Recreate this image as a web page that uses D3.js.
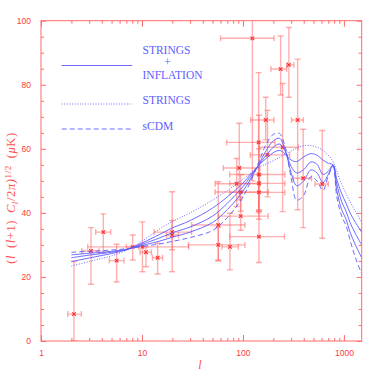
<!DOCTYPE html>
<html>
<head>
<meta charset="utf-8">
<script src="https://cdn.jsdelivr.net/npm/d3@7"></script>
<style>
body{margin:0;background:#fff;}
</style>
</head>
<body>
<div id="main"></div>
<script>
var curveL = [2, 3, 4, 5, 7, 10, 15, 20, 30, 50, 70, 100, 140, 170, 200, 230, 260, 300, 340, 400, 470, 540, 620, 700, 780, 850, 950, 1050, 1150, 1300, 1500];
//model curves (uK)
var sCDM     = [27.7, 28.0, 28.2, 28.4, 28.8, 29.5, 30.3, 31.1, 32.3, 34.5, 38.5, 45.0, 55.0, 61.5, 64.5, 64.8, 61.0, 51.0, 44.0, 45.5, 51.3, 50.0, 47.0, 51.5, 54.5, 45.0, 39.0, 36.0, 31.5, 26.0, 21.0];
var mixHigh  = [26.9, 27.4, 27.7, 28.0, 28.6, 29.8, 31.2, 32.4, 34.0, 37.0, 41.0, 46.8, 54.5, 59.5, 62.5, 63.3, 60.0, 52.5, 48.5, 50.0, 53.4, 52.5, 49.5, 52.0, 54.8, 47.0, 41.0, 38.0, 34.0, 30.0, 26.0];
var mixMid   = [26.0, 26.8, 27.3, 27.7, 28.5, 30.2, 32.2, 33.8, 35.6, 39.0, 43.0, 48.2, 54.5, 58.0, 60.5, 61.5, 59.5, 54.5, 52.5, 53.5, 55.9, 55.2, 52.0, 53.0, 55.0, 49.0, 43.5, 40.5, 37.0, 33.5, 30.0];
var mixLow   = [24.8, 25.9, 26.7, 27.3, 28.5, 30.6, 33.3, 35.3, 37.6, 41.5, 45.0, 49.3, 54.5, 57.0, 58.8, 59.5, 58.5, 56.5, 56.0, 57.5, 58.5, 58.0, 56.5, 55.5, 55.0, 50.5, 46.0, 43.0, 40.0, 37.0, 34.0];
var strings  = [23.4, 24.8, 25.8, 26.6, 28.3, 31.2, 35.0, 37.3, 40.0, 44.0, 47.0, 50.5, 54.0, 55.3, 56.3, 57.3, 58.2, 59.3, 60.2, 61.0, 61.0, 60.5, 59.5, 58.0, 56.0, 53.0, 49.0, 46.0, 43.5, 40.5, 37.0];

//measurements: centre, error bars and l band
var pointL    = [2.12, 3.13, 4.14, 5.61, 8.09, 10.1, 10.96, 14.3, 19.9, 19.9, 56.9, 57, 74.3, 94.9, 95, 86.6, 91.9, 143, 124, 236, 285, 247, 348, 395, 610, 144, 144, 144, 144, 175, 168];
var pointVal  = [8.4, 28.1, 34.0, 25.1, 29.4, 29.4, 27.7, 26.0, 34.0, 33.1, 36.2, 30.0, 29.4, 39.0, 46.5, 49.1, 54.0, 62.0, 94.5, 84.9, 86.2, 60.5, 69.0, 50.8, 49.0, 52.0, 49.2, 46.4, 32.6, 58.1, 69.0];
var pointLow  = [0, 17.7, 27.7, 18.4, 25.3, 21.6, 23.2, 20.9, 21.6, 28.5, 25.3, 25.0, 22.2, 34.6, 40.5, 42.0, 44.0, 40.0, 50.0, 76.8, 76.1, 40.4, 41.0, 35.4, 32.1, 41.0, 38.0, 40.5, 24.5, 45.0, 62.8];
var pointHigh = [24.8, 35.4, 39.7, 30.2, 33.1, 37.2, 29.4, 30.5, 46.6, 37.6, 49.7, 35.5, 39.9, 45.0, 52.0, 57.0, 68.0, 83.8, 108, 95.2, 97.9, 80.4, 88.0, 66.1, 65.7, 70.5, 60.0, 52.0, 40.5, 72.0, 76.1];
var pointLMin = [1.84, 2.53, 3.48, 4.75, 7.0, 2.9, 9.55, 12.7, 13.2, 17.5, 31.0, 28.8, 62, 57, 53, 53, 64, 69, 60, 189, 271, 145, 303, 315, 518, 74, 74, 74, 74, 118, 119];
var pointLMax = [2.51, 3.75, 4.90, 6.63, 9.3, 29, 12.4, 16.0, 31.0, 23, 104.7, 104.6, 90, 178, 178, 148, 147, 207, 203, 271, 320, 355, 395, 478, 700, 260, 260, 260, 258, 290, 203];

//tick values
var xMajor = [1, 10, 100, 1000];
var yMajor = [0, 20, 40, 60, 80, 100];

var width = 382, height = 382;
var plotLeft = 41, plotRight = 361.7, plotTop = 20.7, plotBottom = 341;
var frameColor = "#ff6a6a";
var labelColor = "#ff3b3b";
var barColor = "#ff6060";
var lineColor = "#5b5bff";

function render(){
  var svg = d3.select('#main').append('svg')
              .attr('width', width).attr('height', height)
              .style('background', '#fff');

  var xScale = d3.scaleLog().domain([1, 1500]).range([plotLeft, plotRight]);
  var yScale = d3.scaleLinear().domain([0, 100]).range([plotBottom, plotTop]);

  svg.append('defs').append('clipPath').attr('id', 'plot')
     .append('rect').attr('x', plotLeft).attr('y', plotTop)
     .attr('width', plotRight-plotLeft).attr('height', plotBottom-plotTop);

  //minor tick values
  var xMinor = [];
  [1, 10, 100, 1000].forEach(function(d){
    for(var k=2; k<10; k++){ if(d*k < 1500) xMinor.push(d*k); }
  });
  var yMinor = d3.range(5, 100, 5).filter(function(v){ return v % 20 !== 0; });

  //axes, ticks pointing inward on all four sides
  function styleAxis(g){
    g.select('.domain').remove();
    g.selectAll('line').attr('stroke', frameColor);
    g.selectAll('text').attr('fill', labelColor)
     .style('font-family', 'Liberation Sans, Arial, sans-serif').style('font-size', '8.5px');
  }
  svg.append('g').attr('transform', 'translate(0,' + plotBottom + ')')
     .call(d3.axisBottom(xScale).tickValues(xMajor).tickFormat(d3.format('d')).tickSizeInner(-6).tickSizeOuter(0).tickPadding(9))
     .call(styleAxis);
  svg.append('g').attr('transform', 'translate(0,' + plotBottom + ')')
     .call(d3.axisBottom(xScale).tickValues(xMinor).tickFormat('').tickSizeInner(-3).tickSizeOuter(0))
     .call(styleAxis);
  svg.append('g').attr('transform', 'translate(0,' + plotTop + ')')
     .call(d3.axisTop(xScale).tickValues(xMajor).tickFormat('').tickSizeInner(-6).tickSizeOuter(0))
     .call(styleAxis);
  svg.append('g').attr('transform', 'translate(0,' + plotTop + ')')
     .call(d3.axisTop(xScale).tickValues(xMinor).tickFormat('').tickSizeInner(-3).tickSizeOuter(0))
     .call(styleAxis);
  svg.append('g').attr('transform', 'translate(' + plotLeft + ',0)')
     .call(d3.axisLeft(yScale).tickValues(yMajor).tickSizeInner(-5).tickSizeOuter(0).tickPadding(10))
     .call(styleAxis);
  svg.append('g').attr('transform', 'translate(' + plotLeft + ',0)')
     .call(d3.axisLeft(yScale).tickValues(yMinor).tickFormat('').tickSizeInner(-3).tickSizeOuter(0))
     .call(styleAxis);
  svg.append('g').attr('transform', 'translate(' + plotRight + ',0)')
     .call(d3.axisRight(yScale).tickValues(yMajor).tickFormat('').tickSizeInner(-5).tickSizeOuter(0))
     .call(styleAxis);
  svg.append('g').attr('transform', 'translate(' + plotRight + ',0)')
     .call(d3.axisRight(yScale).tickValues(yMinor).tickFormat('').tickSizeInner(-3).tickSizeOuter(0))
     .call(styleAxis);

  //frame
  svg.append('rect').attr('x', plotLeft).attr('y', plotTop)
     .attr('width', plotRight-plotLeft).attr('height', plotBottom-plotTop)
     .attr('fill', 'none').attr('stroke', frameColor).attr('stroke-width', 1);

  //data points with error bars
  var pts = pointL.map(function(l, i){
    return {l: l, v: pointVal[i], lo: pointLow[i], hi: pointHigh[i], l0: pointLMin[i], l1: pointLMax[i]};
  });
  var bars = svg.append('g').attr('clip-path', 'url(#plot)')
                .attr('stroke', barColor).attr('stroke-opacity', 0.5).attr('stroke-width', 1.4);
  var cap = 3;
  pts.forEach(function(d){
    var x = xScale(d.l), y = yScale(d.v);
    var x0 = xScale(d.l0), x1 = xScale(d.l1), y0 = yScale(d.lo), y1 = yScale(d.hi);
    bars.append('line').attr('x1', x).attr('x2', x).attr('y1', y0).attr('y2', y1);
    bars.append('line').attr('x1', x-cap).attr('x2', x+cap).attr('y1', y0).attr('y2', y0);
    bars.append('line').attr('x1', x-cap).attr('x2', x+cap).attr('y1', y1).attr('y2', y1);
    bars.append('line').attr('x1', x0).attr('x2', x1).attr('y1', y).attr('y2', y);
    bars.append('line').attr('x1', x0).attr('x2', x0).attr('y1', y-cap).attr('y2', y+cap);
    bars.append('line').attr('x1', x1).attr('x2', x1).attr('y1', y-cap).attr('y2', y+cap);
  });
  svg.append('g').selectAll('path').data(pts).enter().append('path')
     .attr('d', function(d){
       var x = xScale(d.l), y = yScale(d.v), s = 1.8;
       return 'M' + (x-s) + ',' + (y-s) + 'L' + (x+s) + ',' + (y+s) + 'M' + (x-s) + ',' + (y+s) + 'L' + (x+s) + ',' + (y-s);
     })
     .attr('stroke', '#ff2a2a').attr('stroke-width', 1.1).attr('fill', 'none');

  //model curves
  var line = d3.line()
               .x(function(d){ return xScale(d[0]); })
               .y(function(d){ return yScale(d[1]); })
               .curve(d3.curveCatmullRom.alpha(0.5));
  var curves = [
    {vals: strings, dash: '1,1.6'},
    {vals: mixLow, dash: null},
    {vals: mixMid, dash: null},
    {vals: mixHigh, dash: null},
    {vals: sCDM, dash: '5,3'}
  ];
  var cg = svg.append('g').attr('clip-path', 'url(#plot)');
  curves.forEach(function(c){
    cg.append('path').datum(curveL.map(function(l, i){ return [l, c.vals[i]]; }))
      .attr('d', line).attr('fill', 'none')
      .attr('stroke', lineColor).attr('stroke-width', 0.9)
      .attr('stroke-dasharray', c.dash);
  });

  //legend
  var legend = svg.append('g')
                  .style('font-family', 'Liberation Serif, Times New Roman, serif')
                  .style('font-size', '11.5px').attr('fill', '#6060ff');
  legend.append('line').attr('x1', 61.7).attr('x2', 132.3).attr('y1', 65.5).attr('y2', 65.5)
        .attr('stroke', lineColor).attr('stroke-width', 0.9);
  legend.append('line').attr('x1', 61.7).attr('x2', 132.3).attr('y1', 104).attr('y2', 104)
        .attr('stroke', lineColor).attr('stroke-width', 0.9).attr('stroke-dasharray', '1,1.6');
  legend.append('line').attr('x1', 61.7).attr('x2', 132.3).attr('y1', 129).attr('y2', 129)
        .attr('stroke', lineColor).attr('stroke-width', 0.9).attr('stroke-dasharray', '5,3');
  legend.append('text').attr('x', 142.5).attr('y', 53.5).text('STRINGS');
  legend.append('text').attr('x', 167.5).attr('y', 66).attr('text-anchor', 'middle').text('+');
  legend.append('text').attr('x', 142.5).attr('y', 79).text('INFLATION');
  legend.append('text').attr('x', 142.5).attr('y', 104.3).text('STRINGS');
  legend.append('text').attr('x', 142.5).attr('y', 130).text('sCDM');

  //axis titles
  var ylab = svg.append('text').attr('transform', 'translate(15,198) rotate(-90)')
                .attr('text-anchor', 'middle').attr('fill', '#ff5050')
                .style('font-family', 'Liberation Serif, Times New Roman, serif').style('font-size', '12.5px')
                .style('letter-spacing', '0.6px');
  ylab.append('tspan').text('(');
  ylab.append('tspan').style('font-style', 'italic').text('l');
  ylab.append('tspan').text('\u2002(');
  ylab.append('tspan').style('font-style', 'italic').text('l');
  ylab.append('tspan').text('+1)\u2002');
  ylab.append('tspan').style('font-style', 'italic').text('C');
  ylab.append('tspan').style('font-style', 'italic').style('font-size', '9px').attr('dy', 3).text('l');
  ylab.append('tspan').attr('dy', -3).text('/2');
  ylab.append('tspan').style('font-style', 'italic').text('π)');
  ylab.append('tspan').style('font-size', '9px').attr('dy', -4.5).text('1/2');
  ylab.append('tspan').attr('dy', 4.5).text('\u2002(');
  ylab.append('tspan').style('font-style', 'italic').text('μ');
  ylab.append('tspan').text('K)');

  svg.append('text').attr('x', 200).attr('y', 369).attr('text-anchor', 'middle')
     .attr('fill', '#ff5050').style('font-family', 'Liberation Serif, Times New Roman, serif')
     .style('font-size', '12px').style('font-style', 'italic').text('l');
}

render();
</script>
</body>
</html>
